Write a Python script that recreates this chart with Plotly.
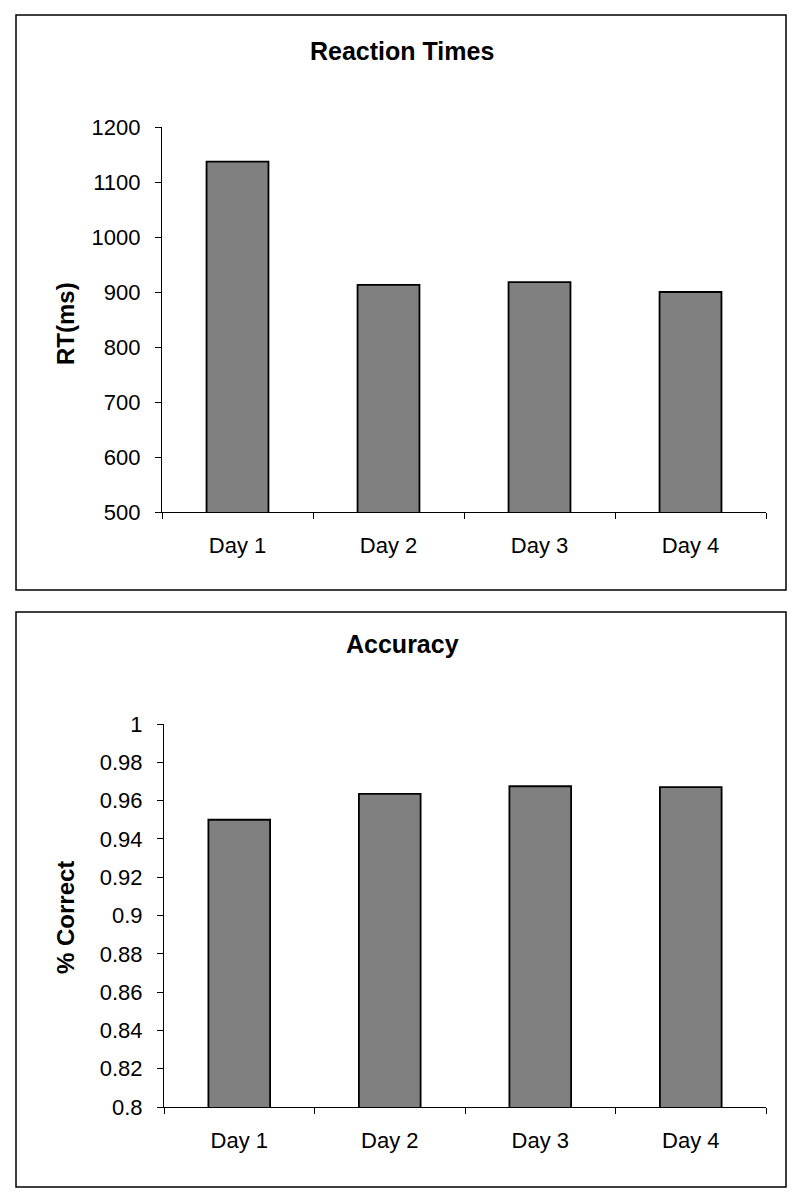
import plotly.graph_objects as go

days = ["Day 1", "Day 2", "Day 3", "Day 4"]
rt_values = [1137, 913, 918, 900]
acc_values = [0.950, 0.9635, 0.9675, 0.967]
rt_ticks = [500, 600, 700, 800, 900, 1000, 1100, 1200]
acc_ticks = [0.8, 0.82, 0.84, 0.86, 0.88, 0.9, 0.92, 0.94, 0.96, 0.98, 1]
acc_tick_text = ["0.8", "0.82", "0.84", "0.86", "0.88", "0.9", "0.92", "0.94", "0.96", "0.98", "1"]

# page body has an 8px margin; figure fits inside the 800x1198 window
OFF = 8
W, H = 784, 1182
FONT = "Liberation Sans, Arial, sans-serif"


def X(p):
    return (p - OFF) / W


def Y(p):
    return 1 - (p - OFF) / H


fig = go.Figure()
fig.add_trace(go.Bar(x=days, y=rt_values, xaxis="x", yaxis="y",
                     marker=dict(color="#808080", line=dict(color="black", width=1.8)),
                     showlegend=False))
fig.add_trace(go.Bar(x=days, y=acc_values, xaxis="x2", yaxis="y2",
                     marker=dict(color="#808080", line=dict(color="black", width=1.8)),
                     showlegend=False))

common_x = dict(showline=True, linecolor="black", linewidth=1.2, ticks="outside",
                tickson="boundaries", ticklen=6, tickcolor="black", tickwidth=1.2,
                showgrid=False,
                tickfont=dict(size=22, color="black", family=FONT), automargin=False,
                ticklabelstandoff=13, zeroline=False)
common_y = dict(showline=True, linecolor="black", linewidth=1.2, ticks="outside",
                ticklen=6, tickcolor="black", tickwidth=1.2, showgrid=False, zeroline=False,
                tickfont=dict(size=22, color="black", family=FONT), automargin=False,
                ticklabelstandoff=10)

ann = dict(xref="paper", yref="paper", showarrow=False, xanchor="center", yanchor="middle")

fig.update_layout(
    width=W, height=H,
    margin=dict(l=0, r=0, t=0, b=0),
    paper_bgcolor="white", plot_bgcolor="white",
    bargap=0.59,
    xaxis=dict(domain=[X(162), X(766)], anchor="y", **common_x),
    yaxis=dict(domain=[Y(512), Y(127)], anchor="x", range=[500, 1200],
               tickvals=rt_ticks, **common_y),
    xaxis2=dict(domain=[X(164), X(766)], anchor="y2", **common_x),
    yaxis2=dict(domain=[Y(1107), Y(724)], anchor="x2", range=[0.8, 1],
                tickvals=acc_ticks, ticktext=acc_tick_text, **common_y),
    shapes=[
        dict(type="rect", xref="paper", yref="paper", x0=X(16), x1=X(786),
             y0=Y(590), y1=Y(15), line=dict(color="black", width=1.5)),
        dict(type="rect", xref="paper", yref="paper", x0=X(16), x1=X(786),
             y0=Y(1187), y1=Y(612), line=dict(color="black", width=1.5)),
    ],
    annotations=[
        dict(text="<b>Reaction Times</b>", x=X(402), y=Y(51),
             font=dict(size=25, color="black", family=FONT), **ann),
        dict(text="<b>Accuracy</b>", x=X(402), y=Y(644),
             font=dict(size=25, color="black", family=FONT), **ann),
        dict(text="<b>RT(ms)</b>", x=X(65), y=Y(324), textangle=-90,
             font=dict(size=24, color="black", family=FONT), **ann),
        dict(text="<b>% Correct</b>", x=X(65), y=Y(918), textangle=-90,
             font=dict(size=24, color="black", family=FONT), **ann),
    ],
)

fig.write_html("out.html")
